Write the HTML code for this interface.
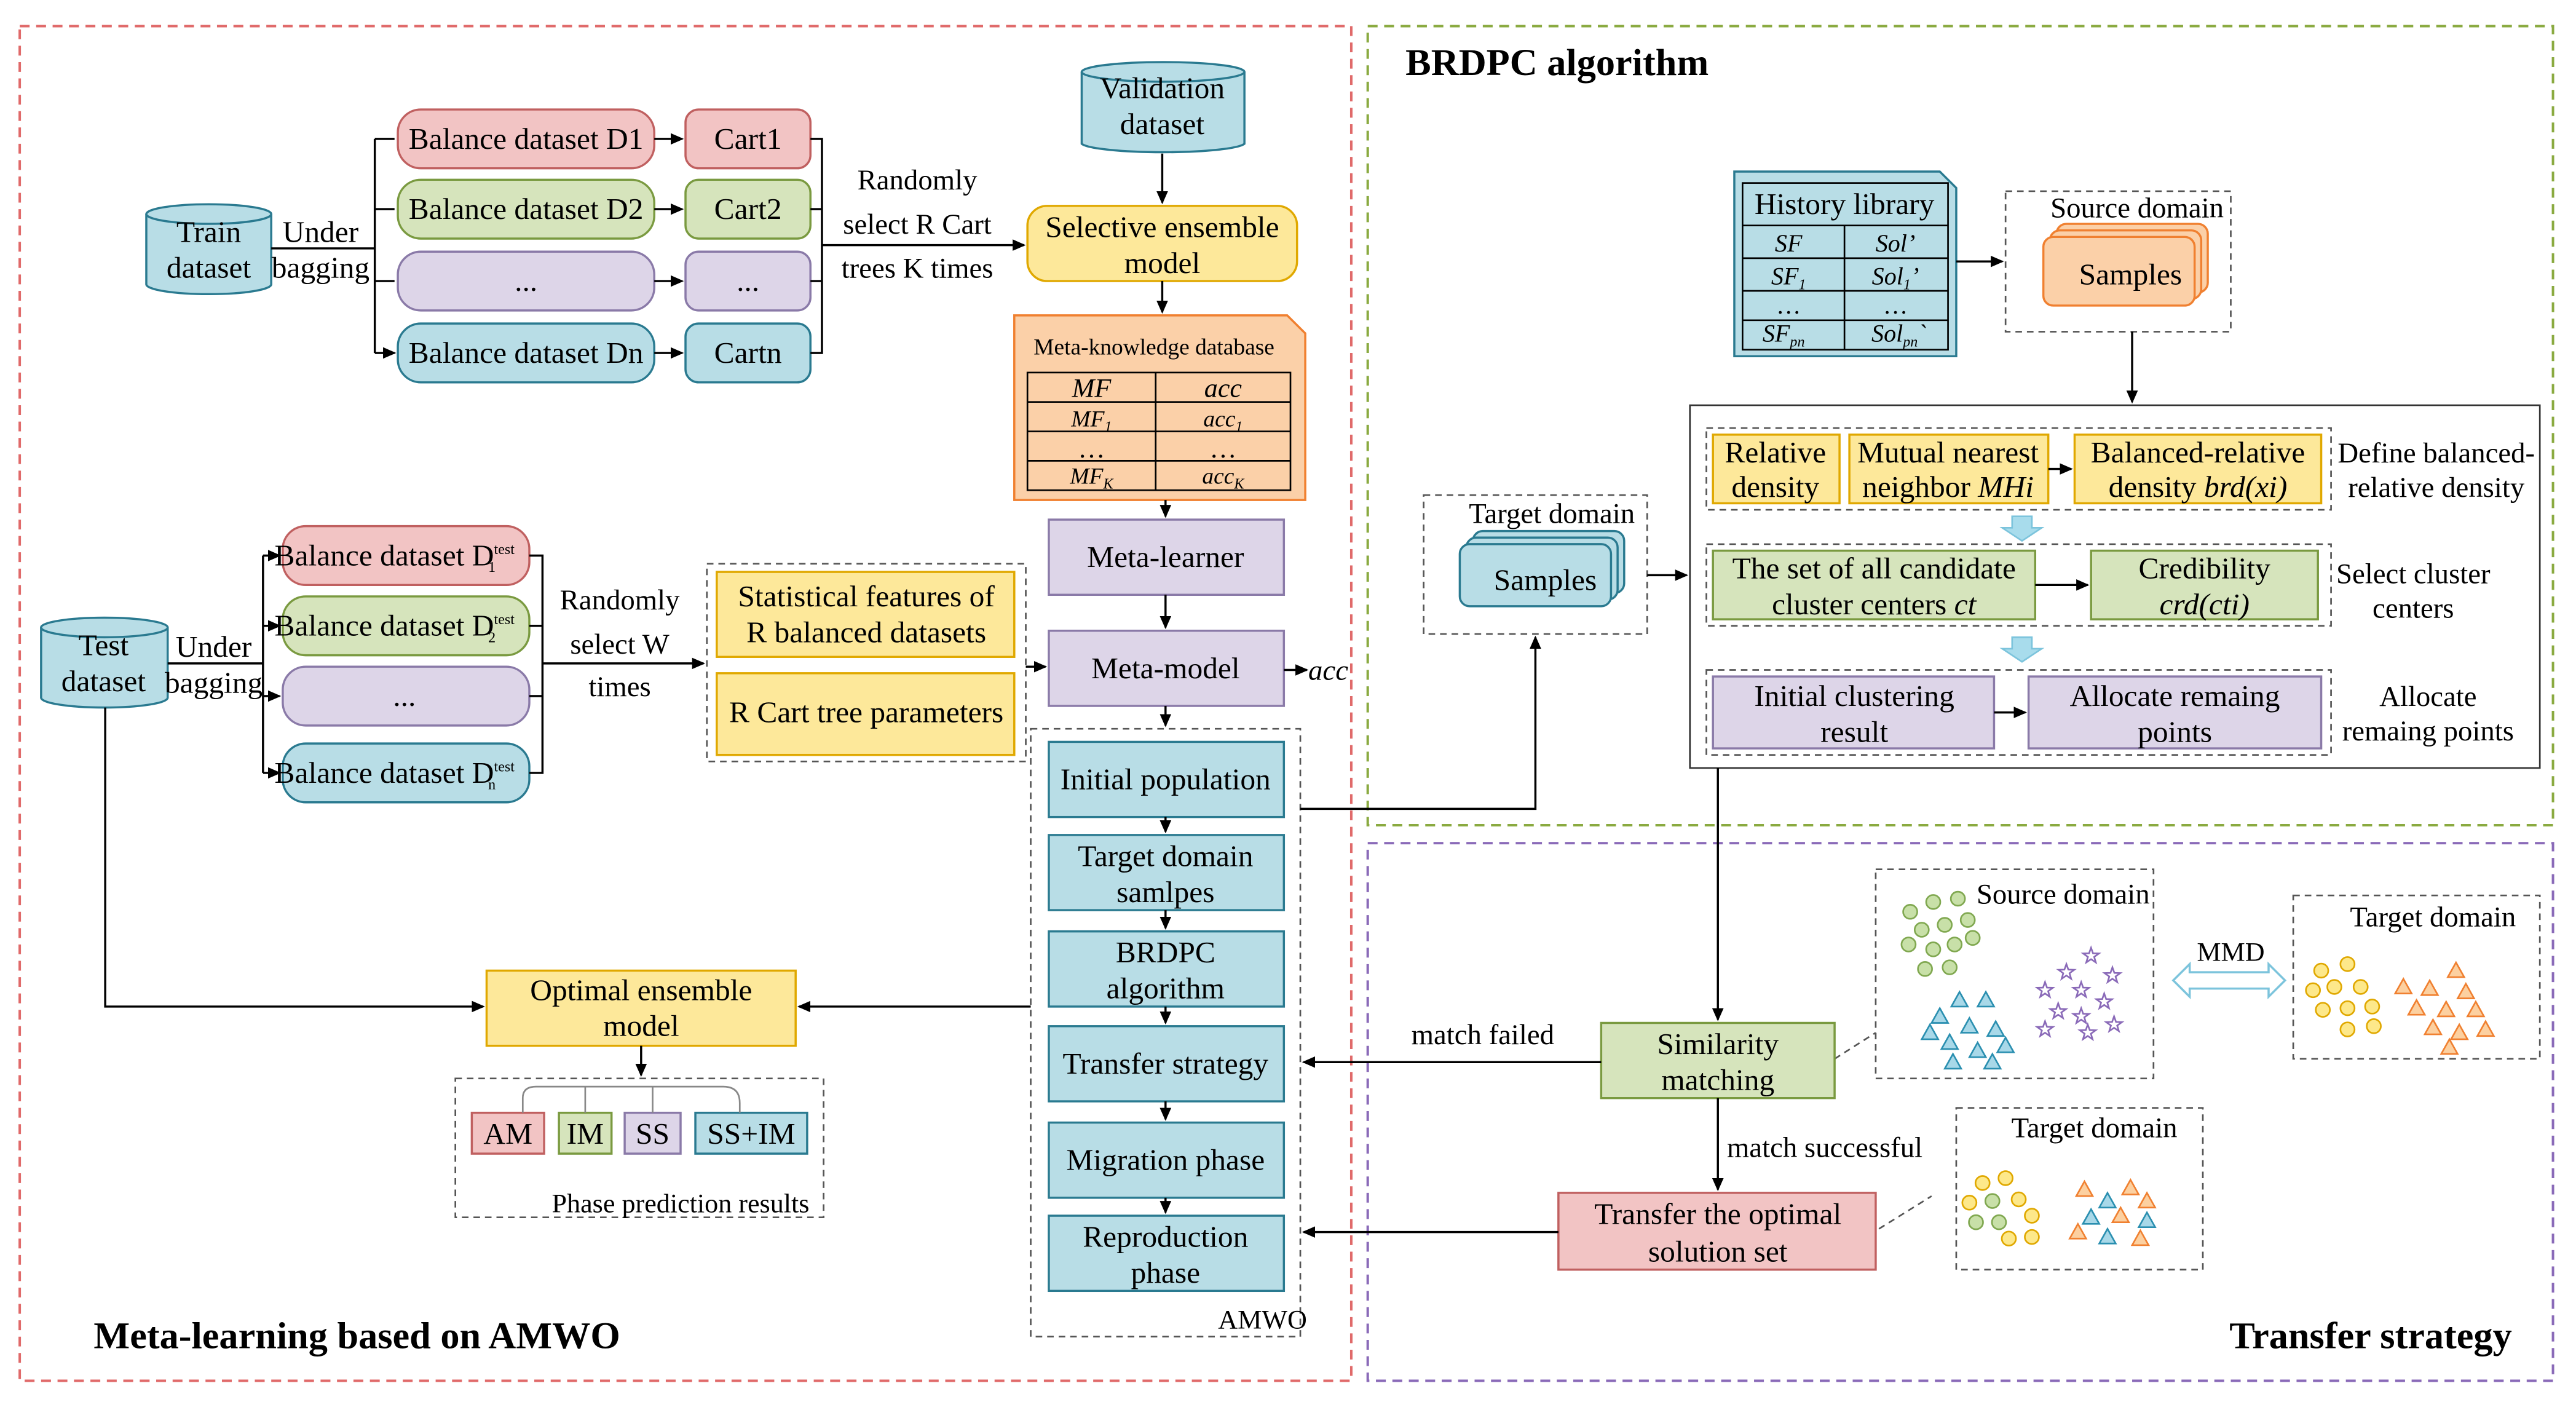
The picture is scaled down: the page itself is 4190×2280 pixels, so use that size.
<!DOCTYPE html>
<html><head><meta charset="utf-8"><style>html,body{margin:0;padding:0;background:#fff}svg{display:block;font-family:"Liberation Serif",serif}</style></head><body>
<svg width="4190" height="2280" viewBox="0 0 1567 858" preserveAspectRatio="none" xmlns="http://www.w3.org/2000/svg" font-family="'Liberation Serif', serif" font-size="18.5">
<defs>
<marker id="a" markerWidth="8" markerHeight="8" refX="7" refY="4" orient="auto" markerUnits="userSpaceOnUse"><path d="M0,0.5 L8,4 L0,7.5z" fill="#000"/></marker>
<path id="st" d="M0,-5 L1.2,-1.6 L4.8,-1.5 L1.9,0.6 L2.9,4 L0,2 L-2.9,4 L-1.9,0.6 L-4.8,-1.5 L-1.2,-1.6z" fill="none" stroke="#8a6ab8" stroke-width="1"/>
<path id="tb" d="M0,-5 L5,4 L-5,4z" fill="#a8d8e8" stroke="#2a8fb0" stroke-width="1"/>
<path id="to" d="M0,-5 L5,4 L-5,4z" fill="#fcd0a0" stroke="#f08030" stroke-width="1"/>
<circle id="cg" r="4.3" fill="#c8e0a8" stroke="#80a850" stroke-width="1"/>
<circle id="cy" r="4.3" fill="#fde88a" stroke="#e0a800" stroke-width="1"/>
</defs>
<g fill="none" stroke-width="1.5" stroke-dasharray="6,4">
<rect x="12" y="16" width="810" height="829" stroke="#e06a6a"/>
<rect x="832" y="16" width="721" height="489" stroke="#8aaa40"/>
<rect x="832" y="516" width="721" height="329" stroke="#8a6ab8"/>
</g>
<g fill="none" stroke="#555" stroke-width="1" stroke-dasharray="4,3">
<rect x="627" y="446" width="164" height="372"/>
<rect x="430" y="345" width="194" height="121"/>
<rect x="277" y="660" width="224" height="85"/>
<rect x="1220" y="117" width="137" height="86"/>
<rect x="866" y="303" width="136" height="85"/>
<rect x="1038" y="262" width="380" height="50"/>
<rect x="1038" y="333" width="380" height="50"/>
<rect x="1038" y="410" width="380" height="52"/>
<rect x="1141" y="532" width="169" height="128"/>
<rect x="1395" y="548" width="150" height="100"/>
<rect x="1190" y="678" width="150" height="99"/>
<path d="M1116,648 L1141,632 M1143,752 L1175,732"/>
</g>
<rect x="1028" y="248" width="517" height="222" fill="none" stroke="#333" stroke-width="1"/>
<g stroke="#2a7a90" stroke-width="1.3" fill="#b8dde6">
<path d="M89,131 L89,174 A38,6 0 0 0 165,174 L165,131"/><ellipse cx="127" cy="131" rx="38" ry="6"/>
<path d="M658,44 L658,88 A50,6 0 0 0 757,88 L757,44"/><ellipse cx="707.5" cy="44" rx="49.5" ry="6"/>
<path d="M25,384 L25,427 A38.5,6 0 0 0 102,427 L102,384"/><ellipse cx="63.5" cy="384" rx="38.5" ry="6"/>
</g>
<g stroke-width="1.3">
<g fill="#f2c4c4" stroke="#c06060"><rect x="242" y="67" width="156" height="36" rx="14"/><rect x="417" y="67" width="76" height="36" rx="8"/><rect x="172" y="322" width="150" height="36" rx="14"/><rect x="287" y="681" width="44" height="25"/><rect x="948" y="730" width="193" height="47"/></g>
<g fill="#d6e4bc" stroke="#7a9a40"><rect x="242" y="110" width="156" height="36" rx="14"/><rect x="417" y="110" width="76" height="36" rx="8"/><rect x="172" y="365" width="150" height="36" rx="14"/><rect x="340" y="681" width="32" height="25"/><rect x="974" y="626" width="142" height="46"/><rect x="1042" y="337" width="196" height="42"/><rect x="1272" y="337" width="138" height="42"/></g>
<g fill="#ddd5e8" stroke="#8a7aa8"><rect x="242" y="154" width="156" height="36" rx="14"/><rect x="417" y="154" width="76" height="36" rx="8"/><rect x="172" y="408" width="150" height="36" rx="14"/><rect x="380" y="681" width="34" height="25"/><rect x="638" y="318" width="143" height="46"/><rect x="638" y="386" width="143" height="46"/><rect x="1042" y="414" width="171" height="44"/><rect x="1234" y="414" width="178" height="44"/></g>
<g fill="#b8dde6" stroke="#2a7a90"><rect x="242" y="198" width="156" height="36" rx="14"/><rect x="417" y="198" width="76" height="36" rx="8"/><rect x="172" y="455" width="150" height="36" rx="14"/><rect x="423" y="681" width="68" height="25"/>
<rect x="638" y="454" width="143" height="46"/><rect x="638" y="511" width="143" height="46"/><rect x="638" y="570" width="143" height="46"/><rect x="638" y="628" width="143" height="46"/><rect x="638" y="687" width="143" height="46"/><rect x="638" y="744" width="143" height="46"/>
<path d="M1055,105 L1180,105 L1190,115 L1190,218 L1055,218z"/>
<rect x="896" y="325" width="92" height="38" rx="6"/><rect x="892" y="329" width="92" height="38" rx="6"/><rect x="888" y="333" width="92" height="38" rx="6"/></g>
<g fill="#fde89a" stroke="#e0a800"><rect x="625" y="126" width="164" height="46" rx="12"/><rect x="296" y="594" width="188" height="46"/><rect x="436" y="350" width="181" height="52"/><rect x="436" y="412" width="181" height="50"/><rect x="1042" y="266" width="77" height="42"/><rect x="1125" y="266" width="121" height="42"/><rect x="1262" y="266" width="150" height="42"/></g>
<g fill="#fbd0a8" stroke="#f08030"><path d="M617,193 L783,193 L794,204 L794,306 L617,306z"/><rect x="1251" y="137" width="92" height="42" rx="6"/><rect x="1247" y="141" width="92" height="42" rx="6"/><rect x="1243" y="145" width="92" height="42" rx="6"/></g>
</g>
<g fill="none" stroke="#000" stroke-width="1">
<rect x="625" y="228" width="160" height="72"/><path d="M625,246 H785 M625,264 H785 M625,282 H785 M703,228 V300"/>
<rect x="1060" y="112" width="125" height="102"/><path d="M1060,138 H1185 M1060,158 H1185 M1060,178 H1185 M1060,196 H1185 M1122,138 V214"/>
</g>
<g fill="none" stroke="#000" stroke-width="1.3">
<path d="M165,152 H228 M228,85 V216"/>
<path d="M228,85 H240 M228,128 H240 M228,172 H240 M228,216 H240" marker-end="url(#a)"/>
<path d="M398,85 H415" marker-end="url(#a)"/><path d="M398,128 H415" marker-end="url(#a)"/><path d="M398,172 H415" marker-end="url(#a)"/><path d="M398,216 H415" marker-end="url(#a)"/>
<path d="M493,85 H500 V216 H493 M493,128 H500 M493,172 H500"/>
<path d="M500,150 H623" marker-end="url(#a)"/>
<path d="M707,94 V124" marker-end="url(#a)"/><path d="M707,172 V191" marker-end="url(#a)"/><path d="M709,306 V316" marker-end="url(#a)"/><path d="M709,364 V384" marker-end="url(#a)"/><path d="M709,432 V444" marker-end="url(#a)"/>
<path d="M781,410 H795" marker-end="url(#a)"/>
<path d="M709,500 V509" marker-end="url(#a)"/><path d="M709,557 V568" marker-end="url(#a)"/><path d="M709,616 V626" marker-end="url(#a)"/><path d="M709,674 V685" marker-end="url(#a)"/><path d="M709,733 V742" marker-end="url(#a)"/>
<path d="M102,406 H160 M160,340 V473"/>
<path d="M160,340 H170" marker-end="url(#a)"/><path d="M160,383 H170" marker-end="url(#a)"/><path d="M160,426 H170" marker-end="url(#a)"/><path d="M160,473 H170" marker-end="url(#a)"/>
<path d="M322,340 H330 V473 H322 M322,383 H330 M322,426 H330"/>
<path d="M330,406 H428" marker-end="url(#a)"/>
<path d="M624,408 H636" marker-end="url(#a)"/>
<path d="M64,433 V616 H294" marker-end="url(#a)"/>
<path d="M627,616 H486" marker-end="url(#a)"/>
<path d="M390,640 V658" marker-end="url(#a)"/>
<path d="M791,495 H934 V390" marker-end="url(#a)"/>
<path d="M1190,160 H1218" marker-end="url(#a)"/>
<path d="M1297,203 V246" marker-end="url(#a)"/>
<path d="M1002,352 H1026" marker-end="url(#a)"/>
<path d="M1246,287 H1260" marker-end="url(#a)"/><path d="M1238,358 H1270" marker-end="url(#a)"/><path d="M1213,436 H1232" marker-end="url(#a)"/>
<path d="M1045,470 V624" marker-end="url(#a)"/>
<path d="M974,650 H793" marker-end="url(#a)"/>
<path d="M1045,672 V728" marker-end="url(#a)"/>
<path d="M948,754 H793" marker-end="url(#a)"/>
</g>
<g fill="none" stroke="#888" stroke-width="1"><path d="M318,681 V672 Q318,665 326,665 H440 Q450,665 450,675 V681 M356,665 V681 M397,665 V681"/></g>
<g fill="#a8dcec" stroke="#7cc4dc"><path d="M1224,316 H1236 V323 H1242 L1230,331 L1218,323 H1224z"/><path d="M1224,390 H1236 V397 H1242 L1230,405 L1218,397 H1224z"/></g>
<path d="M1322,600 L1332,590 V595 H1380 V590 L1390,600 L1380,610 V605 H1332 V610z" fill="#fff" stroke="#7cc4dc" stroke-width="1.3"/>
<g>
<use href="#cg" x="1162" y="558"/><use href="#cg" x="1176" y="552"/><use href="#cg" x="1191" y="550"/><use href="#cg" x="1169" y="569"/><use href="#cg" x="1183" y="566"/><use href="#cg" x="1197" y="563"/><use href="#cg" x="1161" y="578"/><use href="#cg" x="1176" y="581"/><use href="#cg" x="1189" y="578"/><use href="#cg" x="1200" y="574"/><use href="#cg" x="1186" y="592"/><use href="#cg" x="1171" y="593"/>
<use href="#st" x="1272" y="585"/><use href="#st" x="1257" y="595"/><use href="#st" x="1285" y="597"/><use href="#st" x="1244" y="606"/><use href="#st" x="1266" y="606"/><use href="#st" x="1280" y="613"/><use href="#st" x="1252" y="619"/><use href="#st" x="1266" y="622"/><use href="#st" x="1286" y="627"/><use href="#st" x="1270" y="632"/><use href="#st" x="1244" y="630"/>
<use href="#tb" x="1192" y="612"/><use href="#tb" x="1208" y="612"/><use href="#tb" x="1180" y="622"/><use href="#tb" x="1198" y="628"/><use href="#tb" x="1214" y="630"/><use href="#tb" x="1186" y="638"/><use href="#tb" x="1203" y="643"/><use href="#tb" x="1220" y="640"/><use href="#tb" x="1174" y="632"/><use href="#tb" x="1212" y="650"/><use href="#tb" x="1188" y="650"/>
<use href="#cy" x="1412" y="594"/><use href="#cy" x="1428" y="590"/><use href="#cy" x="1420" y="604"/><use href="#cy" x="1436" y="604"/><use href="#cy" x="1407" y="606"/><use href="#cy" x="1413" y="618"/><use href="#cy" x="1428" y="617"/><use href="#cy" x="1443" y="616"/><use href="#cy" x="1428" y="630"/><use href="#cy" x="1444" y="628"/>
<use href="#to" x="1462" y="604"/><use href="#to" x="1478" y="605"/><use href="#to" x="1494" y="594"/><use href="#to" x="1500" y="607"/><use href="#to" x="1470" y="617"/><use href="#to" x="1488" y="618"/><use href="#to" x="1506" y="618"/><use href="#to" x="1480" y="629"/><use href="#to" x="1496" y="632"/><use href="#to" x="1512" y="630"/><use href="#to" x="1490" y="641"/>
<use href="#cy" x="1206" y="724"/><use href="#cy" x="1220" y="721"/><use href="#cy" x="1198" y="736"/><use href="#cg" x="1212" y="735"/><use href="#cy" x="1228" y="734"/><use href="#cg" x="1202" y="748"/><use href="#cg" x="1216" y="748"/><use href="#cy" x="1236" y="744"/><use href="#cy" x="1222" y="758"/><use href="#cy" x="1236" y="757"/>
<use href="#to" x="1268" y="728"/><use href="#tb" x="1282" y="735"/><use href="#to" x="1296" y="727"/><use href="#to" x="1306" y="735"/><use href="#tb" x="1272" y="745"/><use href="#to" x="1290" y="744"/><use href="#tb" x="1306" y="747"/><use href="#to" x="1264" y="754"/><use href="#tb" x="1282" y="757"/><use href="#to" x="1302" y="758"/>
</g>
<g text-anchor="middle" fill="#000">
<text x="127" y="148">Train</text><text x="127" y="170">dataset</text>
<text x="195" y="148">Under</text><text x="195" y="170">bagging</text>
<text x="320" y="91">Balance dataset D1</text><text x="320" y="134">Balance dataset D2</text><text x="320" y="178">...</text><text x="320" y="222">Balance dataset Dn</text>
<text x="455" y="91">Cart1</text><text x="455" y="134">Cart2</text><text x="455" y="178">...</text><text x="455" y="222">Cartn</text>
<text x="558" y="116" font-size="17.5">Randomly</text><text x="558" y="143" font-size="17.5">select R Cart</text><text x="558" y="170" font-size="17.5">trees K times</text>
<text x="707" y="60">Validation</text><text x="707" y="82">dataset</text>
<text x="707" y="145">Selective ensemble</text><text x="707" y="167">model</text>
<text x="702" y="217" font-size="14">Meta-knowledge database</text>
<g font-style="italic" font-size="16.5"><text x="664" y="243">MF</text><text x="744" y="243">acc</text><text x="664" y="261" font-size="14">MF<tspan font-size="9" dy="3">1</tspan></text><text x="744" y="261" font-size="14">acc<tspan font-size="9" dy="3">1</tspan></text><text x="664" y="280" font-style="normal">…</text><text x="744" y="280" font-style="normal">…</text><text x="664" y="296" font-size="14">MF<tspan font-size="9" dy="3">K</tspan></text><text x="744" y="296" font-size="14">acc<tspan font-size="9" dy="3">K</tspan></text></g>
<text x="709" y="347">Meta-learner</text><text x="709" y="415">Meta-model</text>
<text x="808" y="416" font-style="italic" font-size="17.5">acc</text>
<text x="709" y="483">Initial population</text>
<text x="709" y="530">Target domain</text><text x="709" y="552">samlpes</text>
<text x="709" y="589">BRDPC</text><text x="709" y="611">algorithm</text>
<text x="709" y="657">Transfer strategy</text><text x="709" y="716">Migration phase</text>
<text x="709" y="763">Reproduction</text><text x="709" y="785">phase</text>
<text x="768" y="813" font-size="16.5">AMWO</text>
<text x="63" y="401">Test</text><text x="63" y="423">dataset</text>
<text x="130" y="402">Under</text><text x="130" y="424">bagging</text>
<text x="240" y="346">Balance dataset D<tspan font-size="9" dy="-7">test</tspan><tspan font-size="9" dx="-16" dy="11">1</tspan></text>
<text x="240" y="389">Balance dataset D<tspan font-size="9" dy="-7">test</tspan><tspan font-size="9" dx="-16" dy="11">2</tspan></text>
<text x="246" y="432">...</text>
<text x="240" y="479">Balance dataset D<tspan font-size="9" dy="-7">test</tspan><tspan font-size="9" dx="-16" dy="11">n</tspan></text>
<text x="377" y="373" font-size="17.5">Randomly</text><text x="377" y="400" font-size="17.5">select  W</text><text x="377" y="426" font-size="17.5">times</text>
<text x="527" y="371">Statistical features of</text><text x="527" y="393">R balanced datasets</text>
<text x="527" y="442">R Cart tree parameters</text>
<text x="390" y="612">Optimal ensemble</text><text x="390" y="634">model</text>
<text x="309" y="700">AM</text><text x="356" y="700">IM</text><text x="397" y="700">SS</text><text x="457" y="700">SS+IM</text>
<text x="414" y="742" font-size="16.5">Phase prediction results</text>
<text x="1122" y="131">History library</text>
<g font-style="italic" font-size="15"><text x="1088" y="154">SF</text><text x="1153" y="154">Sol’</text><text x="1088" y="174">SF<tspan font-size="9" dy="3">1</tspan></text><text x="1153" y="174">Sol<tspan font-size="9" dy="3">1</tspan><tspan dy="-3">’</tspan></text><text x="1088" y="192" font-style="normal">…</text><text x="1153" y="192" font-style="normal">…</text><text x="1085" y="209">SF<tspan font-size="9" dy="3">pn</tspan></text><text x="1155" y="209">Sol<tspan font-size="9" dy="3">pn</tspan><tspan dy="-3">`</tspan></text></g>
<text x="1300" y="133" font-size="17.5">Source domain</text><text x="1296" y="174">Samples</text>
<text x="944" y="320" font-size="17.5">Target domain</text><text x="940" y="361">Samples</text>
<text x="1080" y="283">Relative</text><text x="1080" y="304">density</text>
<text x="1185" y="283">Mutual nearest</text><text x="1185" y="304">neighbor <tspan font-style="italic">MHi</tspan></text>
<text x="1337" y="283">Balanced-relative</text><text x="1337" y="304">density <tspan font-style="italic">brd(xi)</tspan></text>
<text x="1482" y="283" font-size="17.5">Define balanced-</text><text x="1482" y="304" font-size="17.5">relative density</text>
<text x="1140" y="354">The set of all candidate</text><text x="1140" y="376">cluster centers <tspan font-style="italic">ct</tspan></text>
<text x="1341" y="354">Credibility</text><text x="1341" y="376" font-style="italic">crd(cti)</text>
<text x="1468" y="357" font-size="17.5">Select cluster</text><text x="1468" y="378" font-size="17.5">centers</text>
<text x="1128" y="432">Initial clustering</text><text x="1128" y="454">result</text>
<text x="1323" y="432">Allocate remaing</text><text x="1323" y="454">points</text>
<text x="1477" y="432" font-size="17.5">Allocate</text><text x="1477" y="453" font-size="17.5">remaing points</text>
<text x="1045" y="645">Similarity</text><text x="1045" y="667">matching</text>
<text x="902" y="639" font-size="17.5">match failed</text>
<text x="1110" y="708" font-size="17.5">match successful</text>
<text x="1045" y="749">Transfer the optimal</text><text x="1045" y="772">solution set</text>
<text x="1255" y="553" font-size="17.5">Source domain</text>
<text x="1357" y="588" font-size="16.5">MMD</text>
<text x="1480" y="567" font-size="17.5">Target domain</text>
<text x="1274" y="696" font-size="17.5">Target domain</text>
</g>
<g font-weight="bold" font-size="23.3">
<text x="855" y="46">BRDPC algorithm</text>
<text x="57" y="825">Meta-learning based on AMWO</text>
<text x="1528" y="825" text-anchor="end">Transfer strategy</text>
</g>
</svg>
</body></html>
